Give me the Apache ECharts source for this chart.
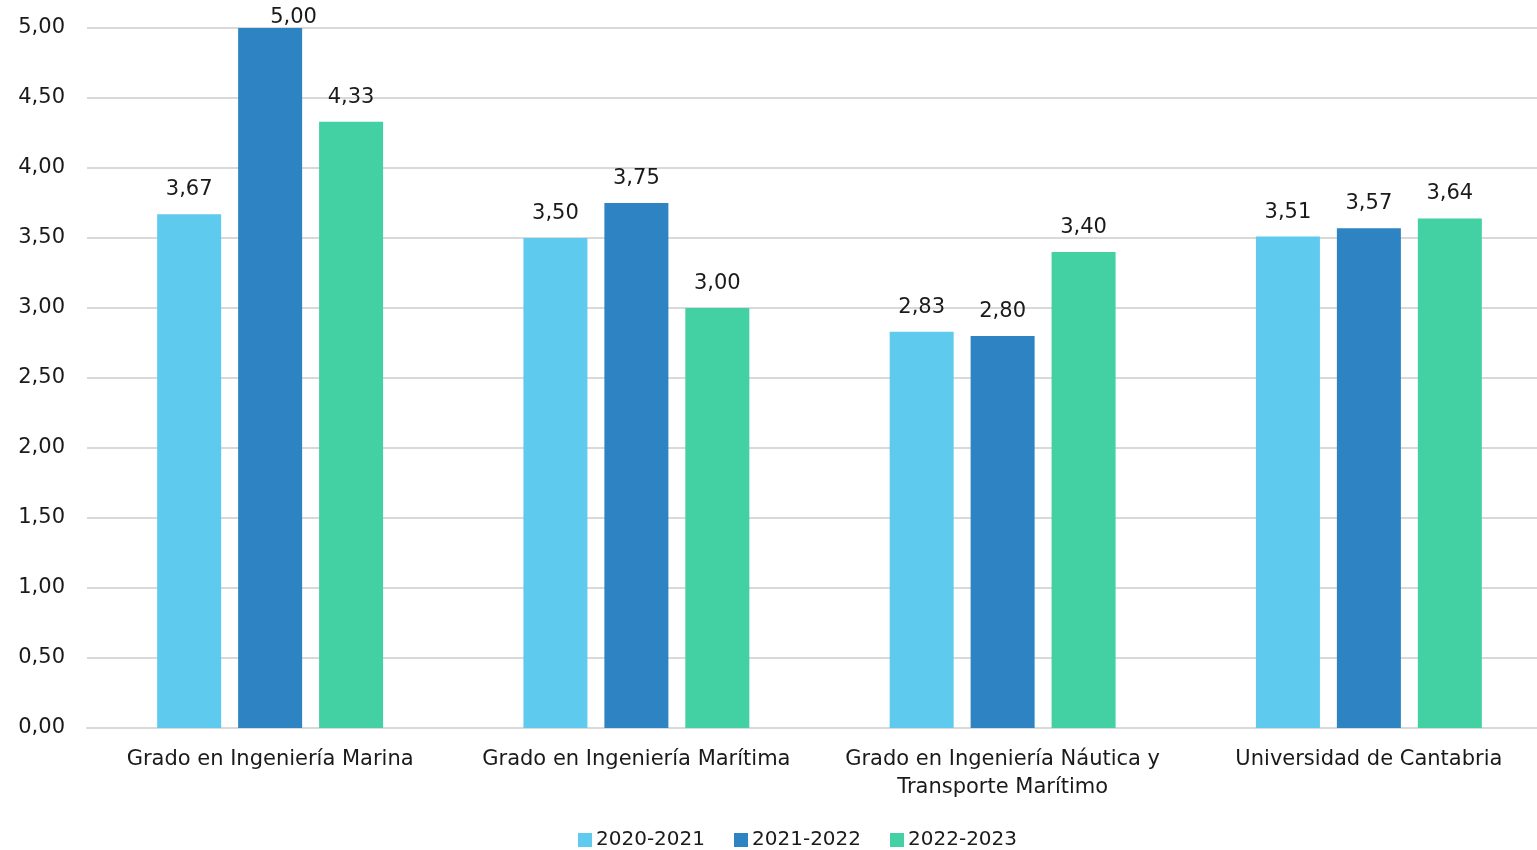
<!DOCTYPE html>
<html>
<head>
    <meta charset="utf-8">
    <title>Grado</title>
    <script src="https://cdn.jsdelivr.net/npm/echarts@6/dist/echarts.min.js"></script>
    <style>
        html, body { margin: 0; padding: 0; background: #ffffff; }
        #chart { width: 1537px; height: 850px; }
    </style>
</head>
<body>
<div id="chart"></div>
<script>
    // datos
    var categorias = ['Grado en Ingeniería Marina', 'Grado en Ingeniería Marítima', 'Grado en Ingeniería Náutica y\nTransporte Marítimo', 'Universidad de Cantabria'];
    var cursos = ['2020-2021', '2021-2022', '2022-2023'];
    var v2021 = [3.67, 3.50, 2.83, 3.51];
    var v2122 = [5.00, 3.75, 2.80, 3.57];
    var v2223 = [4.33, 3.00, 3.40, 3.64];
    var colores = ['#5ecbee', '#2e83c3', '#43d0a2'];

    var fuente = '"DejaVu Sans", sans-serif';
    var coma = function (v) { return v.toFixed(2).replace('.', ','); };

    function serie(nombre, datos, color) {
        return {
            name: nombre,
            type: 'bar',
            data: datos,
            barWidth: 64,
            barGap: '26.5%',
            itemStyle: { color: color },
            label: {
                show: true,
                position: 'top',
                distance: 14,
                color: '#1a1a1a',
                fontFamily: fuente,
                fontSize: 21,
                formatter: function (p) { return coma(p.value); }
            },
            // no dejar que la etiqueta se salga por arriba
            labelLayout: function (params) {
                if (params.labelRect.y < 5) {
                    return { y: 7 + params.labelRect.height / 2, verticalAlign: 'middle' };
                }
            }
        };
    }

    var chart = echarts.init(document.getElementById('chart'));
    chart.setOption({
        animation: false,
        color: colores,
        grid: { left: 87, width: 1465, top: 28, height: 700, outerBoundsMode: 'none', containLabel: false },
        legend: {
            top: 825,
            left: 573,
            itemWidth: 14,
            itemHeight: 14,
            itemGap: 29,
            icon: 'rect',
            textStyle: { fontFamily: fuente, fontSize: 20, color: '#1a1a1a', padding: [0, 0, 0, -1] },
            data: cursos
        },
        xAxis: {
            type: 'category',
            data: categorias,
            axisLine: { show: true, lineStyle: { color: '#d9d9d9', width: 2 } },
            axisTick: { show: false },
            axisLabel: {
                interval: 0,
                margin: 18,
                color: '#1a1a1a',
                fontFamily: fuente,
                fontSize: 21,
                lineHeight: 28
            }
        },
        yAxis: {
            type: 'value',
            min: 0,
            max: 5,
            interval: 0.5,
            axisLine: { show: false },
            axisTick: { show: false },
            splitLine: { lineStyle: { color: '#d9d9d9', width: 2 } },
            axisLabel: {
                margin: 22,
                color: '#1a1a1a',
                fontFamily: fuente,
                fontSize: 21,
                formatter: coma
            }
        },
        series: [
            serie(cursos[0], v2021, colores[0]),
            serie(cursos[1], v2122, colores[1]),
            serie(cursos[2], v2223, colores[2])
        ]
    });
</script>
</body>
</html>
